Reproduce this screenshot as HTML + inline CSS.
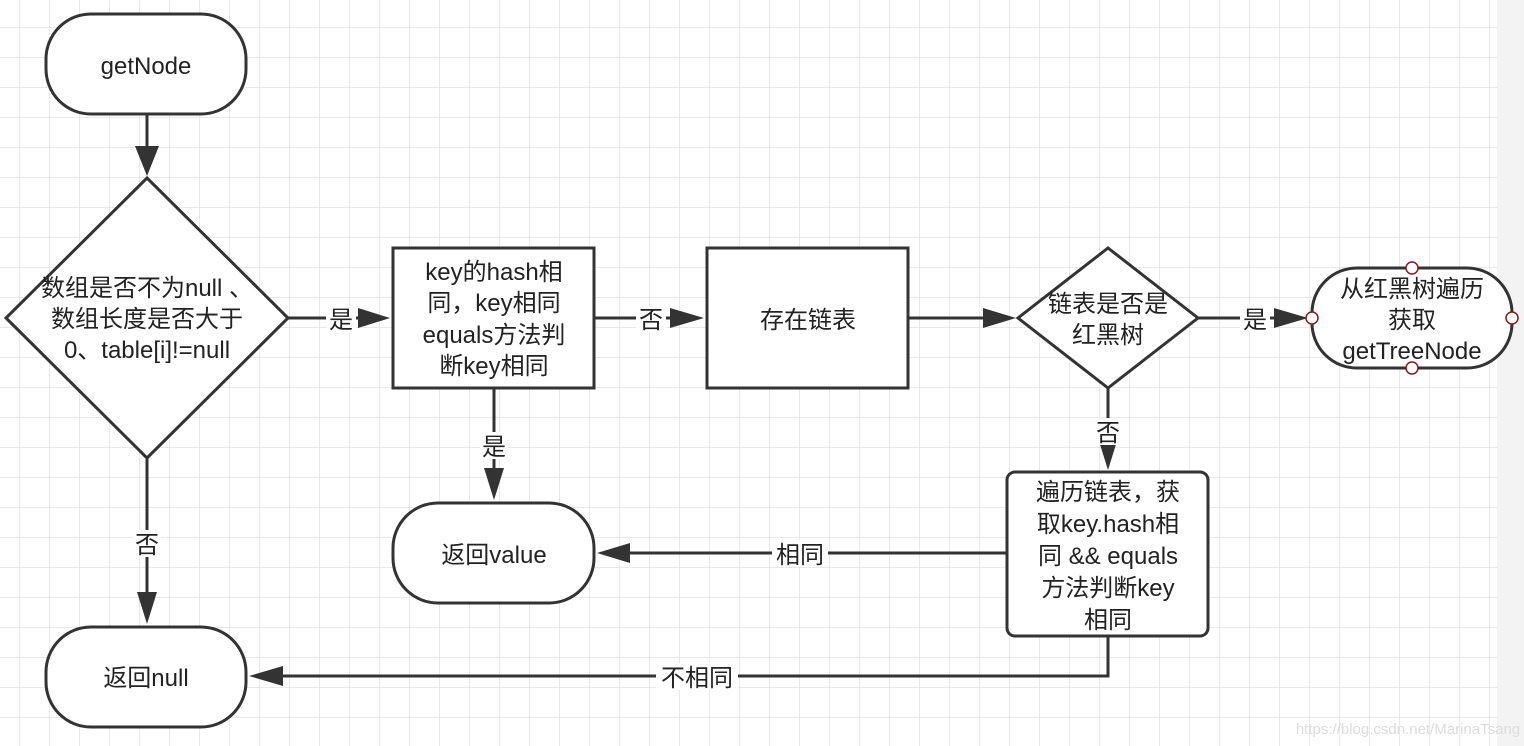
<!DOCTYPE html>
<html><head><meta charset="utf-8"><style>
html,body{margin:0;padding:0;background:#fff}
svg{display:block}
text{font-family:"Liberation Sans","Noto Sans CJK SC",sans-serif;font-size:24px;fill:#222;text-anchor:middle}
</style></head><body>
<svg width="1524" height="746" xmlns="http://www.w3.org/2000/svg">
<defs>
<pattern id="g" x="19" y="27" width="30" height="30" patternUnits="userSpaceOnUse">
<path d="M0 0H30M0 0V30" stroke="#e2e2e2" stroke-width="1.5" fill="none"/>
</pattern>
</defs>
<rect width="1497" height="746" fill="url(#g)"/>
<rect x="1497" width="27" height="746" fill="#f3f3f3"/>
<g stroke="#333" stroke-width="3" fill="#fff">
<rect x="46" y="14" width="200" height="100" rx="45"/>
<polygon points="147,178 288,318 147,458 6,318"/>
<rect x="393" y="248" width="201" height="140"/>
<rect x="707" y="248" width="201" height="140"/>
<polygon points="1108,248 1198,318 1108,388 1018,318"/>
<rect x="1312" y="268" width="200" height="100" rx="45"/>
<rect x="393" y="503" width="201" height="100" rx="45"/>
<rect x="1007" y="472" width="201" height="164" rx="8"/>
<rect x="46" y="627" width="200" height="100" rx="45"/>
</g>
<g stroke="#333" stroke-width="3" fill="none">
<path d="M147 114V150"/>
<path d="M288 318H365"/>
<path d="M594 318H675"/>
<path d="M908 318H990"/>
<path d="M1198 318H1280"/>
<path d="M494 388V475"/>
<path d="M147 458V598"/>
<path d="M1108 388V445"/>
<path d="M1007 553H625"/>
<path d="M1108 636V676H280"/>
</g>
<g fill="#333">
<path d="M135 146H159L147 176z"/>
<path d="M358 308V328L390 318z"/>
<path d="M670 308V328L704 318z"/>
<path d="M983 308V328L1016 318z"/>
<path d="M1274 308V328L1308 318z"/>
<path d="M484 468H504L494 500z"/>
<path d="M137 592H157L147 624z"/>
<path d="M1098 438H1118L1108 470z"/>
<path d="M630 543V563L597 553z"/>
<path d="M283 666V686L249 676z"/>
</g>
<g fill="#fff">
<rect x="326" y="305" width="30" height="27"/>
<rect x="636" y="305" width="30" height="27"/>
<rect x="1240" y="305" width="30" height="27"/>
<rect x="480" y="432" width="28" height="27"/>
<rect x="133" y="530" width="28" height="27"/>
<rect x="1094" y="418" width="28" height="27"/>
<rect x="772" y="540" width="56" height="27"/>
<rect x="656" y="663" width="82" height="27"/>
</g>
<g fill="#fff" stroke="#8b1a1a" stroke-width="1.5">
<circle cx="1412" cy="268" r="6"/><circle cx="1412" cy="368" r="6"/>
<circle cx="1312" cy="318" r="6"/><circle cx="1512" cy="318" r="6"/>
</g>
<text x="146" y="74">getNode</text>
<text x="147" y="296">数组是否不为null 、</text>
<text x="147" y="327">数组长度是否大于</text>
<text x="147" y="358">0、table[i]!=null</text>
<text x="494" y="280">key的hash相</text>
<text x="494" y="311">同，key相同</text>
<text x="494" y="343">equals方法判</text>
<text x="494" y="374">断key相同</text>
<text x="808" y="328">存在链表</text>
<text x="1108" y="312">链表是否是</text>
<text x="1108" y="343">红黑树</text>
<text x="1412" y="297">从红黑树遍历</text>
<text x="1412" y="328">获取</text>
<text x="1412" y="359">getTreeNode</text>
<text x="494" y="563">返回value</text>
<text x="1108" y="500">遍历链表，获</text>
<text x="1108" y="532">取key.hash相</text>
<text x="1108" y="564">同 &amp;&amp; equals</text>
<text x="1108" y="596">方法判断key</text>
<text x="1108" y="628">相同</text>
<text x="146" y="686">返回null</text>
<text x="341" y="328">是</text>
<text x="651" y="328">否</text>
<text x="1255" y="328">是</text>
<text x="494" y="455">是</text>
<text x="147" y="553">否</text>
<text x="1108" y="441">否</text>
<text x="800" y="563">相同</text>
<text x="697" y="686">不相同</text>
<text x="1408" y="734" style="font-size:15px;fill:#ddd">https://blog.csdn.net/MarinaTsang</text>
</svg>
</body></html>
